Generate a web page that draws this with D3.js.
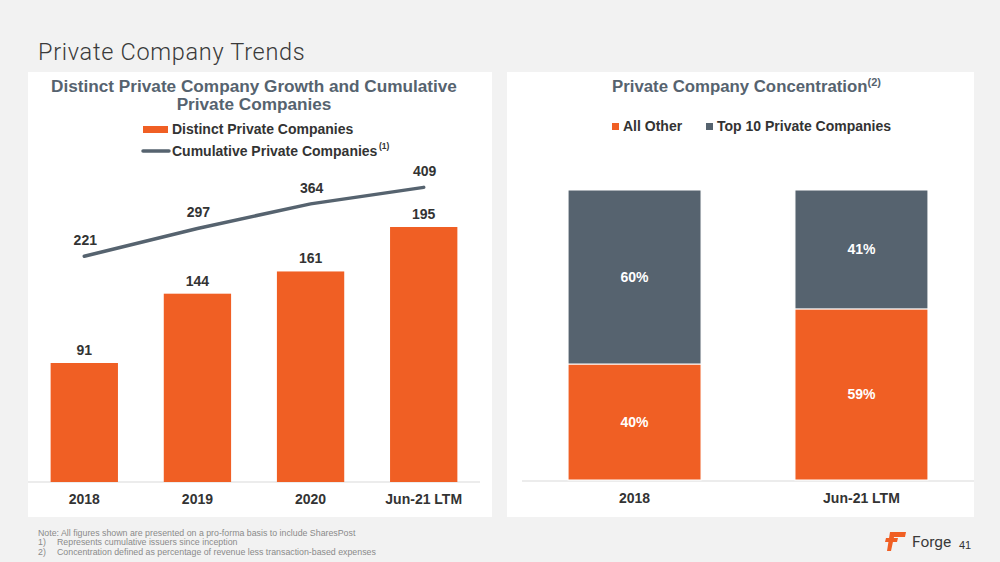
<!DOCTYPE html>
<html><head><meta charset="utf-8">
<script src="https://cdn.jsdelivr.net/npm/d3@7"></script>
<style>
body{margin:0;background:#f2f2f2;}
svg{display:block;font-family:"Liberation Sans",Arial,sans-serif;}
</style></head>
<body><svg id="c" width="1000" height="562"></svg>
<script>
const categories = ["2018","2019","2020","Jun-21 LTM"];
const distinct = [91,144,161,195];
const cumulative = [221,297,364,409];
const concCategories = ["2018","Jun-21 LTM"];
const allOther = [40,59];
const top10 = [60,41];
const lineTicks = [-400,500];

const ORANGE="#f05f24", SLATE="#56636f", TXT="#333333";
const svg=d3.select("#c");
svg.append("rect").attr("width",1000).attr("height",562).attr("fill","#f2f2f2");
svg.append("text").attr("x",38).attr("y",60).attr("font-size",23.5).attr("fill","#3a3a3a")
  .attr("font-family","Roboto, 'Liberation Sans', sans-serif").attr("font-weight",300)
  .attr("letter-spacing",0.7).text("Private Company Trends");

// panels
svg.append("rect").attr("x",28).attr("y",72).attr("width",464).attr("height",445).attr("fill","#fff");
svg.append("rect").attr("x",507).attr("y",72).attr("width",467).attr("height",445).attr("fill","#fff");

// ---------- Left chart
const L=svg.append("g");
L.append("text").attr("x",254).attr("y",92).attr("text-anchor","middle").attr("font-size",17.2)
 .attr("font-weight","bold").attr("fill",SLATE).text("Distinct Private Company Growth and Cumulative");
L.append("text").attr("x",254).attr("y",110).attr("text-anchor","middle").attr("font-size",17.2)
 .attr("font-weight","bold").attr("fill",SLATE).text("Private Companies");
// legend
L.append("rect").attr("x",143).attr("y",126).attr("width",25).attr("height",7).attr("fill",ORANGE);
L.append("text").attr("x",172).attr("y",134).attr("font-size",14).attr("font-weight","bold").attr("fill",TXT).text("Distinct Private Companies");
L.append("line").attr("x1",143).attr("x2",169).attr("y1",151).attr("y2",151).attr("stroke",SLATE).attr("stroke-width",3.5).attr("stroke-linecap","round");
L.append("text").attr("x",172).attr("y",156).attr("font-size",14).attr("font-weight","bold").attr("fill",TXT).text("Cumulative Private Companies");
L.append("text").attr("x",379).attr("y",149).attr("font-size",8.5).attr("font-weight","bold").attr("fill",TXT).text("(1)");

const x=d3.scaleBand().domain(categories).range([28,480]).paddingInner(0.405).paddingOuter(0.2);
const y=d3.scaleLinear().domain([0,195]).range([482,227]);
const yl=d3.scaleLinear().domain(lineTicks).range([484,154]);
L.append("line").attr("x1",28).attr("x2",480).attr("y1",482).attr("y2",482).attr("stroke","#d9d9d9").attr("stroke-width",1);
L.selectAll(".bar").data(categories).enter().append("rect")
 .attr("x",d=>x(d)).attr("width",x.bandwidth()).attr("y",(d,i)=>y(distinct[i])).attr("height",(d,i)=>y(0)-y(distinct[i])).attr("fill",ORANGE);
L.selectAll(".bl").data(categories).enter().append("text")
 .attr("x",d=>x(d)+x.bandwidth()/2).attr("y",(d,i)=>y(distinct[i])-8).attr("text-anchor","middle")
 .attr("font-size",14).attr("font-weight","bold").attr("fill",TXT).text((d,i)=>distinct[i]);
const line=d3.line().x((d,i)=>x(categories[i])+x.bandwidth()/2).y(d=>yl(d));
L.append("path").datum(cumulative).attr("d",line).attr("fill","none").attr("stroke",SLATE).attr("stroke-width",3.5).attr("stroke-linecap","round");
L.selectAll(".ll").data(cumulative).enter().append("text")
 .attr("x",(d,i)=>x(categories[i])+x.bandwidth()/2+1).attr("y",d=>yl(d)-11).attr("text-anchor","middle")
 .attr("font-size",14).attr("font-weight","bold").attr("fill",TXT).text(d=>d);
const ax=L.append("g").attr("transform","translate(0,482)").call(d3.axisBottom(x).tickSize(0).tickPadding(12));
ax.select(".domain").remove();
ax.selectAll("text").attr("font-size",14).attr("font-weight","bold").attr("fill",TXT).attr("font-family","Liberation Sans, Arial, sans-serif");

// ---------- Right chart
const R=svg.append("g");
const t=R.append("text").attr("x",612).attr("y",92).attr("font-size",16.8).attr("font-weight","bold").attr("fill",SLATE);
t.append("tspan").text("Private Company Concentration");
t.append("tspan").attr("dy",-6).attr("font-size",11).text("(2)");
R.append("rect").attr("x",612).attr("y",123).attr("width",7).attr("height",7).attr("fill",ORANGE);
R.append("text").attr("x",623).attr("y",131).attr("font-size",14).attr("font-weight","bold").attr("fill",TXT).text("All Other");
R.append("rect").attr("x",706).attr("y",123).attr("width",7).attr("height",7).attr("fill",SLATE);
R.append("text").attr("x",717).attr("y",131).attr("font-size",14).attr("font-weight","bold").attr("fill",TXT).text("Top 10 Private Companies");

const x2=d3.scaleBand().domain(concCategories).range([522,974]).paddingInner(0.414).paddingOuter(0.203);
const y2=d3.scaleLinear().domain([0,100]).range([480,190]);
R.append("line").attr("x1",522).attr("x2",974).attr("y1",481).attr("y2",481).attr("stroke","#d9d9d9").attr("stroke-width",1);
const stackData=concCategories.map((c,i)=>({cat:c,allOther:allOther[i],top10:top10[i]}));
const series=d3.stack().keys(["allOther","top10"])(stackData);
const col={allOther:ORANGE,top10:SLATE};
series.forEach(s=>{
  R.selectAll(".s"+s.key).data(s).enter().append("rect")
   .attr("x",d=>x2(d.data.cat)).attr("width",x2.bandwidth())
   .attr("y",d=>y2(d[1])).attr("height",d=>y2(d[0])-y2(d[1]))
   .attr("fill",col[s.key]).attr("stroke","#fff").attr("stroke-width",1);
  R.selectAll(".l"+s.key).data(s).enter().append("text")
   .attr("x",d=>x2(d.data.cat)+x2.bandwidth()/2).attr("y",d=>(y2(d[0])+y2(d[1]))/2+5)
   .attr("text-anchor","middle").attr("font-size",14).attr("font-weight","bold").attr("fill","#fff")
   .text(d=>(d[1]-d[0])+"%");
});
const ax2=R.append("g").attr("transform","translate(0,481)").call(d3.axisBottom(x2).tickSize(0).tickPadding(12));
ax2.select(".domain").remove();
ax2.selectAll("text").attr("font-size",14).attr("font-weight","bold").attr("fill",TXT).attr("font-family","Liberation Sans, Arial, sans-serif");

// footnotes
const F=svg.append("g").attr("font-size",8.8).attr("fill","#8a8a8a");
F.append("text").attr("x",38).attr("y",536).text("Note: All figures shown are presented on a pro-forma basis to include SharesPost");
F.append("text").attr("x",38).attr("y",545).text("1)");
F.append("text").attr("x",57).attr("y",545).text("Represents cumulative issuers since inception");
F.append("text").attr("x",38).attr("y",555).text("2)");
F.append("text").attr("x",57).attr("y",555).text("Concentration defined as percentage of revenue less transaction-based expenses");

// logo
const G=svg.append("g").attr("fill",ORANGE);
G.append("path").attr("d","M890,532 L906,532 L905,537 L894,537 L891,551 L887,551 Z");
G.append("path").attr("d","M886,538 L898,538 L897,542 L885,542 Z");
svg.append("text").attr("x",912).attr("y",547).attr("font-size",15.5).attr("fill","#3a3a3a").attr("font-family","Roboto, 'Liberation Sans', sans-serif").text("Forge");
svg.append("text").attr("x",959).attr("y",549).attr("font-size",11).attr("fill","#333").text("41");
</script></body></html>
